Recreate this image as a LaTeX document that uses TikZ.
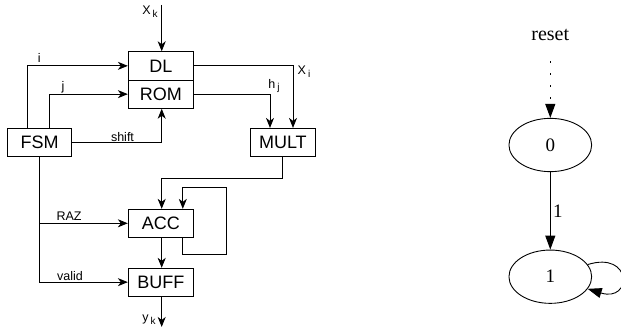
\documentclass[tikz,border=0pt]{standalone}
\usepackage{fontspec}
\setmainfont{Liberation Sans}
\newfontfamily\serifgv{Liberation Serif}
\usetikzlibrary{arrows.meta,shapes.geometric,calc}
\tikzset{
  blk/.style={draw, line width=0.9pt, minimum width=65pt, minimum height=28.3pt, inner sep=0pt, font=\fontsize{18}{20}\selectfont},
  arr/.style={line width=0.9pt, -{Stealth[length=10pt,width=8pt,inset=3pt]}},
  wire/.style={line width=0.9pt},
  lbl/.style={font=\fontsize{12.5}{14}\selectfont, inner sep=0pt},
  st/.style={draw, ellipse, line width=0.9pt, minimum width=82.7pt, minimum height=53.3pt, inner sep=0pt, font=\serifgv\fontsize{19}{21}\selectfont},
  gv/.style={line width=0.9pt, -{Triangle[length=14pt,width=10pt]}},
}
\newcommand{\sbs}[2]{#1\,\raisebox{-0.45ex}{\fontsize{10}{11}\selectfont #2}}
\begin{document}
\begin{tikzpicture}[x=1pt,y=-1pt]
\useasboundingbox (0,0) rectangle (621,331);
% blocks
\node[blk] (DL) at (160.8,65.85) {DL};
\node[blk] (ROM) at (160.8,94.15) {ROM};
\node[blk, minimum width=64.4pt] (FSM) at (39.5,142.5) {FSM};
\node[blk, minimum width=64.3pt] (MULT) at (282.85,142.5) {MULT};
\node[blk, minimum height=28pt] (ACC) at (160.8,223.3) {ACC};
\node[blk, minimum height=27.7pt] (BUFF) at (160.8,282.15) {BUFF};
% inputs/outputs
\coordinate (xk) at (161.7,5);
\draw[arr] (xk) -- (DL.north -| xk);
\node[lbl] at (150,12) {\sbs{X}{k}};
\draw[arr] (BUFF.south -| xk) -- ++(0,30.5) coordinate (yk);
\node[lbl] at (149,320) {\sbs{y}{k}};
% FSM connections
\draw[arr] ([xshift=-12.2pt]FSM.north) |- (DL.west);
\node[lbl] at (39.3,58) {i};
\draw[arr] ([xshift=9.8pt]FSM.north) |- (ROM.west);
\node[lbl] at (63,87) {j};
\draw[arr] (FSM.east) -| (ROM.south -| xk);
\node[lbl] at (122.5,137) {shift};
\draw[arr] (FSM.south) |- (BUFF.west);
\draw[arr] (FSM.south |- ACC.west) -- (ACC.west);
\node[lbl] at (69,216) {RAZ};
\node[lbl] at (70,276) {valid};
% to MULT
\draw[arr] (DL.east) -| ([xshift=10.15pt]MULT.north);
\node[lbl] at (304,72) {\sbs{X}{i}};
\draw[arr] (ROM.east) -| ([xshift=-12.85pt]MULT.north);
\node[lbl] at (274,86) {\sbs{h}{j}};
% MULT to ACC
\draw[arr] (MULT.south) -- ++(0,21.6) -| (ACC.north -| xk);
% feedback
\draw[arr] ([xshift=22pt]ACC.south) -- ++(0,16.7) -- ++(44,0) -- ++(0,-67.3) -| ([xshift=22pt]ACC.north);
% ACC to BUFF
\draw[arr] (ACC.south -| xk) -- (BUFF.north -| xk);
% state diagram
\node[font=\serifgv\fontsize{20}{22}\selectfont] (reset) at (550.3,35) {reset};
\node[st] (s0) at (550.3,145) {0};
\node[st] (s1) at (550.3,276.7) {1};
\draw[gv, line width=1.1pt, dash pattern=on 2pt off 10pt, shorten <=17pt] (reset.south) -- (s0.north);
\draw[gv] (s0.south) -- node[right=-1pt, font=\serifgv\fontsize{19}{21}\selectfont] {1} (s1.north);
\draw[gv] (s1.18) .. controls +(45,-14) and +(45,14) .. (s1.-18);
\end{tikzpicture}
\end{document}
